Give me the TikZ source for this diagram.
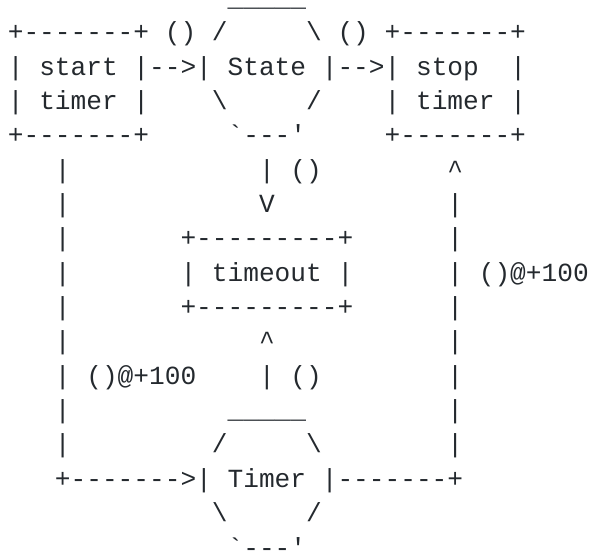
\documentclass[tikz,border=0pt]{standalone}
\usepackage{fontspec}
\setmonofont{Liberation Mono}
\definecolor{ink}{RGB}{36,41,46}
\tikzset{
  asc/.style={anchor=base west, inner sep=0pt, outer sep=0pt, text=ink,
    font=\ttfamily\fontsize{26.16pt}{30pt}\selectfont}
}
% #1 name, #2 row, #3 column, #4 text
\newcommand{\ascchunk}[4]{\node[asc] (#1) at ({7.85+15.7*#3},{6.3+34.36*#2}) {#4};}
\begin{document}
\begin{tikzpicture}[x=1pt,y=-1pt]
\useasboundingbox (0,0) rectangle (589,552);
% row 0
\node[asc] (stateTop) at ({7.85+15.7*14},6.3) {\raisebox{0pt}[0pt][0pt]{\_\_\_\_\_}};
% row 1
\ascchunk{startTop}{1}{0}{+-------+}
\ascchunk{lblA}{1}{10}{()}
\ascchunk{stateNW}{1}{13}{/}
\ascchunk{stateNE}{1}{19}{\textbackslash}
\ascchunk{lblB}{1}{21}{()}
\ascchunk{stopTop}{1}{24}{+-------+}
% row 2
\ascchunk{startL1}{2}{0}{|}
\ascchunk{startTxt}{2}{2}{start}
\ascchunk{arrA}{2}{8}{|-->|}
\ascchunk{stateTxt}{2}{14}{State}
\ascchunk{arrB}{2}{20}{|-->|}
\ascchunk{stopTxt}{2}{26}{stop}
\ascchunk{stopR1}{2}{32}{|}
% row 3
\ascchunk{startL2}{3}{0}{|}
\ascchunk{startTxtB}{3}{2}{timer}
\ascchunk{startR2}{3}{8}{|}
\ascchunk{stateSW}{3}{13}{\textbackslash}
\ascchunk{stateSE}{3}{19}{/}
\ascchunk{stopL2}{3}{24}{|}
\ascchunk{stopTxtB}{3}{26}{timer}
\ascchunk{stopR2}{3}{32}{|}
% row 4
\ascchunk{startBot}{4}{0}{+-------+}
\ascchunk{stateBot}{4}{14}{`---'}
\ascchunk{stopBot}{4}{24}{+-------+}
% row 5
\ascchunk{lv5}{5}{3}{|}
\ascchunk{mv5}{5}{16}{|}
\ascchunk{lblC}{5}{18}{()}
\ascchunk{rUp}{5}{28}{\textasciicircum}
% row 6
\ascchunk{lv6}{6}{3}{|}
\ascchunk{mDown}{6}{16}{V}
\ascchunk{rv6}{6}{28}{|}
% row 7
\ascchunk{lv7}{7}{3}{|}
\ascchunk{toTop}{7}{11}{+---------+}
\ascchunk{rv7}{7}{28}{|}
% row 8
\ascchunk{lv8}{8}{3}{|}
\ascchunk{toL}{8}{11}{|}
\ascchunk{toTxt}{8}{13}{timeout}
\ascchunk{toR}{8}{21}{|}
\ascchunk{rv8}{8}{28}{|}
\ascchunk{lblD}{8}{30}{()@+100}
% row 9
\ascchunk{lv9}{9}{3}{|}
\ascchunk{toBot}{9}{11}{+---------+}
\ascchunk{rv9}{9}{28}{|}
% row 10
\ascchunk{lv10}{10}{3}{|}
\ascchunk{mUp}{10}{16}{\textasciicircum}
\ascchunk{rv10}{10}{28}{|}
% row 11
\ascchunk{lv11}{11}{3}{|}
\ascchunk{lblE}{11}{5}{()@+100}
\ascchunk{mv11}{11}{16}{|}
\ascchunk{lblF}{11}{18}{()}
\ascchunk{rv11}{11}{28}{|}
% row 12
\ascchunk{lv12}{12}{3}{|}
\ascchunk{timerTop}{12}{14}{\_\_\_\_\_}
\ascchunk{rv12}{12}{28}{|}
% row 13
\ascchunk{lv13}{13}{3}{|}
\ascchunk{timerNW}{13}{13}{/}
\ascchunk{timerNE}{13}{19}{\textbackslash}
\ascchunk{rv13}{13}{28}{|}
% row 14
\ascchunk{arrC}{14}{3}{+------->|}
\ascchunk{timerTxt}{14}{14}{Timer}
\ascchunk{arrD}{14}{20}{|-------+}
% row 15
\ascchunk{timerSW}{15}{13}{\textbackslash}
\ascchunk{timerSE}{15}{19}{/}
% row 16
\node[asc] (timerBot) at ({7.85+15.7*14},549) {\raisebox{-7.06pt}[0pt][0pt]{`---'}};
\end{tikzpicture}
\end{document}
